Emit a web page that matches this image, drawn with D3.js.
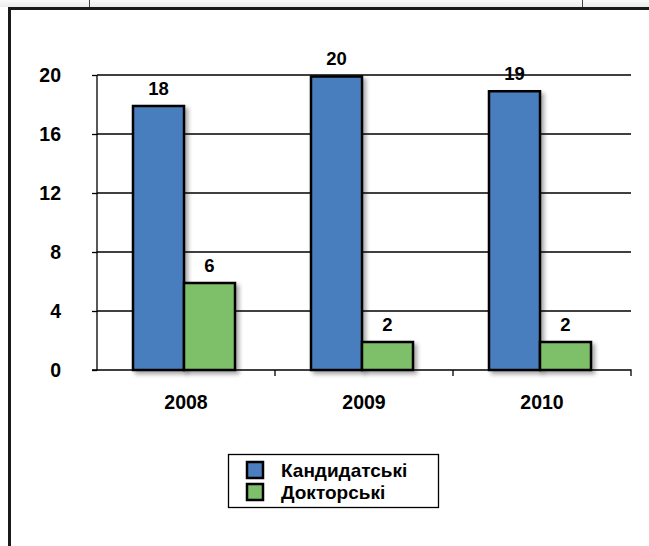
<!DOCTYPE html>
<html><head><meta charset="utf-8">
<script src="https://cdn.jsdelivr.net/npm/d3@7/dist/d3.min.js"></script>
<style>
html,body{margin:0;padding:0;background:#fff;}
svg{display:block;font-family:"Liberation Sans",Arial,sans-serif;}
</style></head>
<body>
<script>
const categories = ["2008", "2009", "2010"];
const seriesNames = ["Кандидатські", "Докторські"];
const candidateValues = [18, 20, 19];
const doctorValues = [6, 2, 2];
const yTicks = [0, 4, 8, 12, 16, 20];
const colors = ["#4A7EBE", "#7EBF6B"];

(function(){
const W = 649, H = 546;
const svg = d3.select("body").append("svg").attr("width", W).attr("height", H);

const defs = svg.append("defs");
const f = defs.append("filter").attr("id","sh").attr("x","-20%").attr("y","-20%").attr("width","150%").attr("height","150%");
f.append("feDropShadow").attr("dx",3).attr("dy",3).attr("stdDeviation",2).attr("flood-color","#000").attr("flood-opacity",0.35);
const g0 = defs.append("linearGradient").attr("id","topg").attr("x1",0).attr("y1",0).attr("x2",0).attr("y2",1);
g0.append("stop").attr("offset","0%").attr("stop-color","#fafafa");
g0.append("stop").attr("offset","100%").attr("stop-color","#ebebeb");

svg.append("rect").attr("x",0).attr("y",0).attr("width",W).attr("height",7).attr("fill","url(#topg)");
[89.5, 582.5].forEach(x => svg.append("line").attr("x1",x).attr("x2",x).attr("y1",0).attr("y2",7).attr("stroke","#444").attr("stroke-width",1));
svg.append("rect").attr("x",8).attr("y",7).attr("width",W).attr("height",H).attr("fill","#fff");
svg.append("line").attr("x1",8).attr("x2",W).attr("y1",8.5).attr("y2",8.5).attr("stroke","#1a1a1a").attr("stroke-width",3);
svg.append("line").attr("x1",9.5).attr("x2",9.5).attr("y1",7).attr("y2",H).attr("stroke","#1a1a1a").attr("stroke-width",3);

const pl = 97, pr = 631, pt = 75, pb = 370;
const y = d3.scaleLinear().domain([0,20]).range([pb, pt]);
const x0 = d3.scaleBand().domain(categories).range([pl, pr]).paddingInner(0.427).paddingOuter(0.2135);
const x1 = d3.scaleBand().domain(seriesNames).range([0, x0.bandwidth()]);

svg.append("g").selectAll("line").data(yTicks.filter(d=>d>0)).join("line")
  .attr("x1",pl).attr("x2",pr).attr("y1",d=>y(d)).attr("y2",d=>y(d))
  .attr("stroke","#000").attr("stroke-width",1.3);

const ya = svg.append("g").attr("transform",`translate(${pl},0)`)
  .call(d3.axisLeft(y).tickValues(yTicks).tickSize(5).tickPadding(31));
ya.select(".domain").attr("stroke","#000").attr("stroke-width",1.3).attr("d",`M-5,${pb}H0V${pt}`);
ya.selectAll(".tick line").attr("stroke","#000").attr("stroke-width",1.3);
ya.selectAll("text").attr("font-size",19.5).attr("font-weight","bold").attr("fill","#000")
  .attr("font-family","'Liberation Sans',Arial,sans-serif");

const xa = svg.append("g").attr("transform",`translate(0,${pb})`)
  .call(d3.axisBottom(x0).tickSize(0).tickPadding(25));
xa.select(".domain").attr("stroke","#000").attr("stroke-width",1.3).attr("d",`M${pl},0H${pr}V6`);
xa.selectAll("text").attr("font-size",19.5).attr("font-weight","bold").attr("fill","#000")
  .attr("font-family","'Liberation Sans',Arial,sans-serif");
const step = x0.step();
xa.append("g").selectAll("line").data(categories.slice(1)).join("line")
  .attr("x1",(d)=>pl + categories.indexOf(d)*step).attr("x2",(d)=>pl + categories.indexOf(d)*step)
  .attr("y1",0).attr("y2",6).attr("stroke","#000").attr("stroke-width",1.3);

const rows = categories.map((c,i)=>({cat:c, vals:[candidateValues[i], doctorValues[i]]}));
const groups = svg.append("g").selectAll("g").data(rows).join("g")
  .attr("transform",d=>`translate(${x0(d.cat)-2},0)`);
groups.selectAll("rect").data(d=>d.vals.map((v,j)=>({v, s:seriesNames[j], j}))).join("rect")
  .attr("x",d=>x1(d.s)).attr("width",x1.bandwidth())
  .attr("y",d=>y(d.v)+1.5).attr("height",d=>pb-y(d.v)-1.5)
  .attr("fill",d=>colors[d.j]).attr("stroke","#000").attr("stroke-width",2.5)
  .attr("filter","url(#sh)");
groups.selectAll("text").data(d=>d.vals.map((v,j)=>({v, s:seriesNames[j], j}))).join("text")
  .attr("x",d=>x1(d.s)+x1.bandwidth()/2).attr("y",d=>y(d.v)-10)
  .attr("text-anchor","middle").attr("font-size",18.5).attr("font-weight","bold").text(d=>d.v);

const lg = svg.append("g");
lg.append("rect").attr("x",228.5).attr("y",454.5).attr("width",210).attr("height",53)
  .attr("fill","#fff").attr("stroke","#000").attr("stroke-width",1.3);
seriesNames.forEach((s,i)=>{
  const yy = 462 + i*22;
  lg.append("rect").attr("x",247).attr("y",yy).attr("width",16).attr("height",16)
    .attr("fill",colors[i]).attr("stroke","#000").attr("stroke-width",2.5);
  lg.append("text").attr("x",281).attr("y",yy+14.5).attr("font-size",19).attr("font-weight","bold").text(s);
});
})();
</script>
</body></html>
